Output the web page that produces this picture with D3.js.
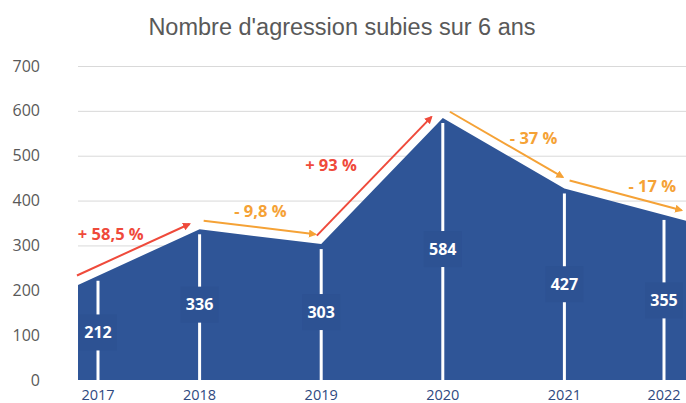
<!DOCTYPE html>
<html>
<head>
<meta charset="utf-8">
<script src="https://cdn.jsdelivr.net/npm/d3@7"></script>
<style>
  html, body { margin: 0; padding: 0; background: #fff; }
  svg { display: block; }
</style>
</head>
<body>
<svg id="chart" width="686" height="403"></svg>
<script>
// ---- data ----
const years = ["2017", "2018", "2019", "2020", "2021", "2022"];
const values = [212, 336, 303, 584, 427, 355];
const changeLabels = ["+ 58,5 %", "- 9,8 %", "+ 93 %", "- 37 %", "- 17 %"];
const changeUp = [true, false, true, false, false];
const yTicks = [0, 100, 200, 300, 400, 500, 600, 700];
const title = "Nombre d'agression subies sur 6 ans";

// ---- layout ----
const W = 686, H = 403;
const plotL = 78, plotR = 686, plotT = 66, plotB = 380;
const blue = "#2F5597", boxBlue = "#2D5293";
const red = "#EF4A3B", orange = "#F5A236";
// label offsets relative to segment midpoints (layout only)
const labelOffsets = [[-28, -23], [0, -25], [-51, -16], [30, -15], [27, -18]];

const svg = d3.select("#chart");
const x = d3.scalePoint().domain(years).range([plotL, plotR]);
const y = d3.scaleLinear().domain([0, 700]).range([plotB, plotT]);

// title
svg.append("text")
  .attr("x", 342).attr("y", 35)
  .attr("text-anchor", "middle")
  .attr("font-family", "Liberation Sans, Arial, sans-serif")
  .attr("font-size", 23.5)
  .attr("fill", "#595959")
  .text(title);

// gridlines
svg.append("g").selectAll("line")
  .data(yTicks.filter(t => t > 0))
  .join("line")
  .attr("x1", plotL).attr("x2", plotR)
  .attr("y1", d => y(d) + 0.5).attr("y2", d => y(d) + 0.5)
  .attr("stroke", "#D9D9D9").attr("stroke-width", 1);

// y axis
const yAxis = d3.axisLeft(y).tickValues(yTicks).tickSize(0).tickPadding(0);
const gy = svg.append("g").attr("transform", "translate(40,0)").call(yAxis);
gy.select(".domain").remove();
gy.selectAll("text")
  .attr("font-family", "Open Sans, sans-serif")
  .attr("font-size", 16)
  .attr("fill", "#595959");

// area
const pts = years.map((yr, i) => ({ yr, v: values[i] }));
const area = d3.area().x(d => x(d.yr)).y0(y(0)).y1(d => y(d.v));
svg.append("path").datum(pts).attr("d", area).attr("fill", blue);

// label x positions (clamped inside the plot)
const lx = d => Math.max(plotL + 20, Math.min(plotR - 22, x(d.yr)));
// top of area at a given x
const areaTop = px => {
  for (let i = 0; i < pts.length - 1; i++) {
    const x0 = x(pts[i].yr), x1 = x(pts[i + 1].yr);
    if (px >= x0 && px <= x1) {
      const t = (px - x0) / (x1 - x0);
      return y(pts[i].v) + t * (y(pts[i + 1].v) - y(pts[i].v));
    }
  }
  return y(pts[pts.length - 1].v);
};

// white drop lines
const drop = svg.append("g");
drop.selectAll("line").data(pts).join("line")
  .attr("x1", lx).attr("x2", lx)
  .attr("y1", d => areaTop(lx(d)) + 5)
  .attr("y2", y(0))
  .attr("stroke", "#fff").attr("stroke-width", 3);

// value label boxes + text
const vl = svg.append("g");
vl.selectAll("rect").data(pts).join("rect")
  .attr("x", d => lx(d) - 19)
  .attr("y", d => y(d.v / 2) - 18)
  .attr("width", 38).attr("height", 36)
  .attr("fill", boxBlue);
vl.selectAll("text").data(pts).join("text")
  .attr("x", lx)
  .attr("y", d => y(d.v / 2))
  .attr("dy", "0.35em")
  .attr("text-anchor", "middle")
  .attr("font-family", "Open Sans, sans-serif")
  .attr("font-weight", "bold")
  .attr("font-size", 16)
  .attr("fill", "#fff")
  .text(d => d.v);

// year labels
svg.append("g").selectAll("text").data(pts).join("text")
  .attr("x", lx)
  .attr("y", 400)
  .attr("text-anchor", "middle")
  .attr("font-family", "Open Sans, sans-serif")
  .attr("font-size", 14.5)
  .attr("fill", "#2F4A80")
  .text(d => d.yr);

// arrow markers
const defs = svg.append("defs");
[["red", red], ["orange", orange]].forEach(([id, c]) => {
  defs.append("marker")
    .attr("id", "arr-" + id)
    .attr("viewBox", "0 0 10 10")
    .attr("refX", 8).attr("refY", 5)
    .attr("markerWidth", 4).attr("markerHeight", 4)
    .attr("orient", "auto")
    .append("path").attr("d", "M0,0 L10,5 L0,10 z").attr("fill", c);
});

// change arrows
const off = 9, trimS = 3, trimE = 7;
const segs = changeLabels.map((lab, i) => {
  const x0 = x(pts[i].yr), y0 = y(pts[i].v);
  const x1 = x(pts[i + 1].yr), y1 = y(pts[i + 1].v);
  const len = Math.hypot(x1 - x0, y1 - y0);
  const ux = (x1 - x0) / len, uy = (y1 - y0) / len;
  const nx = uy, ny = -ux;
  return {
    lab, up: changeUp[i],
    sx: x0 + nx * off + ux * trimS, sy: y0 + ny * off + uy * trimS,
    ex: x1 + nx * off - ux * trimE, ey: y1 + ny * off - uy * trimE,
    mx: (x0 + x1) / 2 + labelOffsets[i][0], my: (y0 + y1) / 2 + labelOffsets[i][1]
  };
});
const ag = svg.append("g");
ag.selectAll("line").data(segs).join("line")
  .attr("x1", d => d.sx).attr("y1", d => d.sy)
  .attr("x2", d => d.ex).attr("y2", d => d.ey)
  .attr("stroke", d => d.up ? red : orange)
  .attr("stroke-width", 2)
  .attr("marker-end", d => d.up ? "url(#arr-red)" : "url(#arr-orange)");
ag.selectAll("text").data(segs).join("text")
  .attr("x", d => d.mx).attr("y", d => d.my)
  .attr("dy", "0.35em")
  .attr("text-anchor", "middle")
  .attr("font-family", "Open Sans, sans-serif")
  .attr("font-weight", "bold")
  .attr("font-size", 16.5)
  .attr("fill", d => d.up ? red : orange)
  .text(d => d.lab);
</script>
</body>
</html>
